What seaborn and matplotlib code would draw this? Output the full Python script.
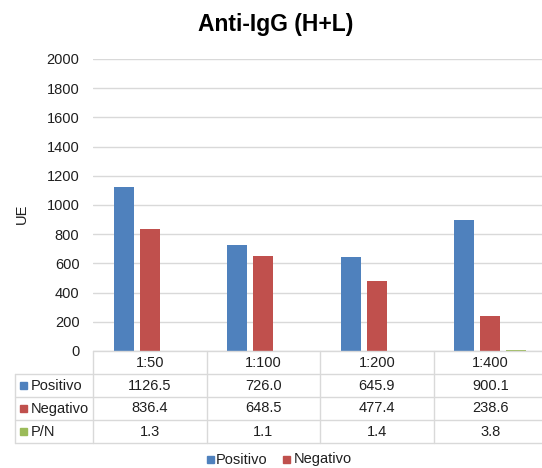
import matplotlib
matplotlib.use('Agg')
import matplotlib.pyplot as plt
import seaborn as sns
import pandas as pd
from matplotlib.patches import Rectangle
from matplotlib.lines import Line2D

# ---- data ----
categories = ['1:50', '1:100', '1:200', '1:400']
positivo = [1126.5, 726.0, 645.9, 900.1]
negativo = [836.4, 648.5, 477.4, 238.6]
pn_ratio = [1.3, 1.1, 1.4, 3.8]
series_names = ['Positivo', 'Negativo', 'P/N']
series_values = [positivo, negativo, pn_ratio]
colors = ['#4F81BD', '#C0504D', '#9BBB59']
yticks = [0, 200, 400, 600, 800, 1000, 1200, 1400, 1600, 1800, 2000]
title = 'Anti-IgG (H+L)'
ylabel = 'UE'

sns.set_theme(style='white')
plt.rcParams['font.family'] = ['Liberation Sans', 'DejaVu Sans']
TXT = '#1f1f1f'
GRID = '#d9d9d9'
FS = 10.5

W, H = 542, 468
fig = plt.figure(figsize=(W / 100, H / 100), dpi=100)
fig.patch.set_facecolor('white')

def fx(px):
    return px / W

def fy(py):
    return 1 - py / H

ax_l, ax_r, ax_b, ax_t = 93.3, 547.0, 351.0, 59.0
ax = fig.add_axes([fx(ax_l), fy(ax_b), fx(ax_r - ax_l), (ax_b - ax_t) / H])

df = pd.DataFrame({
    'cat': [c for _ in series_names for c in categories],
    'series': [s for s in series_names for _ in categories],
    'val': [v for vals in series_values for v in vals],
})
sns.barplot(data=df, x='cat', y='val', hue='series', order=categories,
            hue_order=series_names, palette=colors, width=0.687, gap=0.23,
            saturation=1, legend=False, errorbar=None, ax=ax,
            edgecolor='none')

ax.set_xlim(-0.5, len(categories) - 0.5)
ax.set_ylim(0, 2000)
ax.set_yticks(yticks)
ax.set_yticklabels([str(t) for t in yticks], fontsize=FS, color=TXT)
ax.tick_params(axis='y', length=0, pad=10)
ax.set_xticks([])
ax.set_xlabel('')
ax.set_ylabel('')
for s in ax.spines.values():
    s.set_visible(False)
ax.yaxis.grid(True, color=GRID, lw=1.0)
ax.set_axisbelow(True)

fig.text(fx(21.5), fy(214), ylabel, rotation=90, ha='center', va='center',
         fontsize=FS, color=TXT)
fig.text(fx(276), fy(25), title, ha='center', va='center', fontsize=16.5,
         fontweight='bold', color='#000000')

# ---- data table ----
col_edges = [ax_l + i * (ax_r - ax_l) / len(categories) for i in range(len(categories) + 1)]
row_edges = [351.0, 373.5, 396.5, 419.5, 442.5]
tab_left = 14.5

def hline(y, x0, x1):
    fig.add_artist(Line2D([fx(x0), fx(x1)], [fy(y), fy(y)], color=GRID, lw=1.0,
                          transform=fig.transFigure))

def vline(x, y0, y1):
    fig.add_artist(Line2D([fx(x), fx(x)], [fy(y0), fy(y1)], color=GRID, lw=1.0,
                          transform=fig.transFigure))

hline(row_edges[0], ax_l, ax_r)
for y in row_edges[1:]:
    hline(y, tab_left, ax_r)
vline(tab_left, row_edges[1], row_edges[-1])
for x in col_edges[:-1]:
    vline(x, row_edges[0], row_edges[-1])

for i, c in enumerate(categories):
    cx = (col_edges[i] + col_edges[i + 1]) / 2
    fig.text(fx(cx), fy((row_edges[0] + row_edges[1]) / 2 + 0.5), c, ha='center',
             va='center', fontsize=FS, color=TXT)

for r, (name, vals, col) in enumerate(zip(series_names, series_values, colors)):
    yc = (row_edges[r + 1] + row_edges[r + 2]) / 2 + 0.5
    fig.add_artist(Rectangle((fx(20), fy(yc + 3.5)), fx(7), 7 / H, color=col,
                             transform=fig.transFigure))
    fig.text(fx(30.5), fy(yc), name, ha='left', va='center', fontsize=FS, color=TXT)
    for i, v in enumerate(vals):
        cx = (col_edges[i] + col_edges[i + 1]) / 2
        fig.text(fx(cx), fy(yc), f'{v:.1f}', ha='center', va='center',
                 fontsize=FS, color=TXT)

# ---- legend ----
leg_y = 459.5
for x_sq, x_txt, name, col in [(206.7, 216, series_names[0], colors[0]),
                               (282.7, 293.5, series_names[1], colors[1])]:
    fig.add_artist(Rectangle((fx(x_sq), fy(leg_y + 3.5)), fx(7), 7 / H, color=col,
                             transform=fig.transFigure))
    fig.text(fx(x_txt), fy(leg_y), name, ha='left', va='center', fontsize=FS, color=TXT)

fig.savefig('out.png', dpi=100, facecolor='white')
